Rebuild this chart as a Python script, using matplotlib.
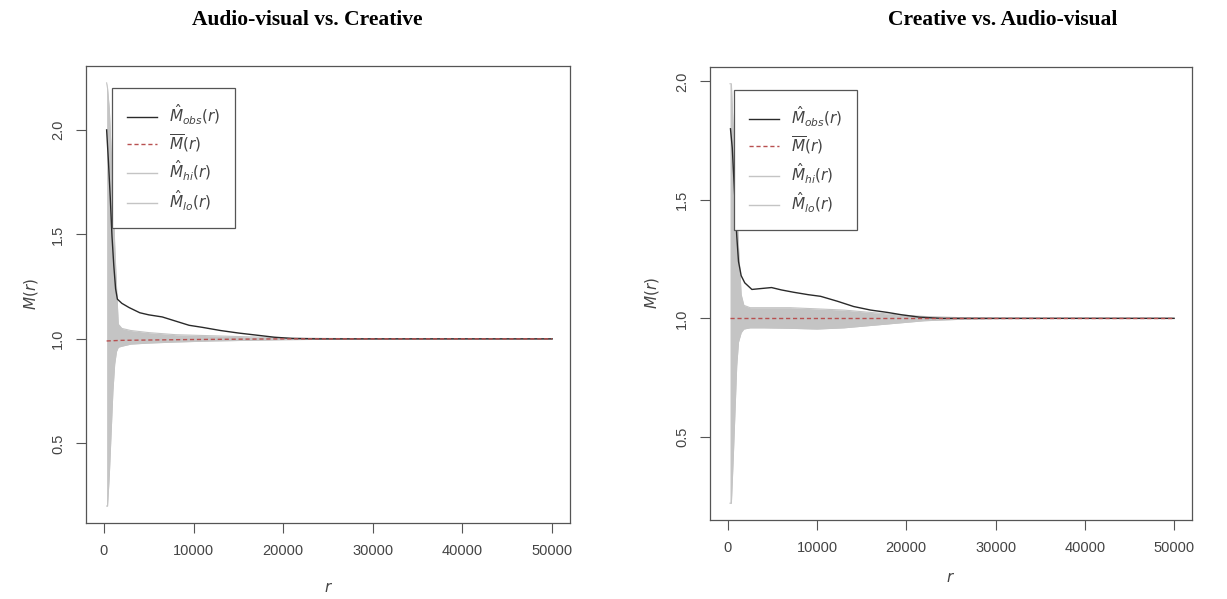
import matplotlib
matplotlib.use("Agg")
import matplotlib.pyplot as plt
from matplotlib.lines import Line2D

# ---------------- data ----------------
titles = ["Audio-visual vs. Creative", "Creative vs. Audio-visual"]
xticks = [0, 10000, 20000, 30000, 40000, 50000]
yticks = [0.5, 1.0, 1.5, 2.0]

# Left panel: Audio-visual vs. Creative
r_obs_left = [300, 500, 700, 900, 1100, 1300, 1500, 2000, 2800, 4000, 5000, 6500, 8000,
              9500, 11000, 13000, 15000, 17000, 19000, 21000, 24000, 30000, 40000, 50000]
m_obs_left = [2.0, 1.85, 1.68, 1.49, 1.35, 1.24, 1.19, 1.17, 1.15, 1.125, 1.115, 1.105, 1.085,
              1.065, 1.055, 1.04, 1.028, 1.018, 1.008, 1.002, 1.0, 1.0, 1.0, 1.0]
r_env_left = [300, 400, 600, 800, 1000, 1200, 1400, 1600, 2000, 3000, 5000, 8000, 12000,
              16000, 20000, 25000, 30000, 40000, 50000]
m_hi_left = [2.225, 2.2, 2.1, 1.9, 1.7, 1.45, 1.25, 1.07, 1.05, 1.04, 1.03, 1.02, 1.015,
             1.01, 1.005, 1.002, 1.001, 1.0, 1.0]
m_lo_left = [0.2, 0.2, 0.35, 0.55, 0.75, 0.88, 0.94, 0.96, 0.965, 0.975, 0.98, 0.985, 0.99,
             0.993, 0.996, 0.998, 0.999, 1.0, 1.0]
r_mean_left = [300, 2000, 10000, 20000, 50000]
m_mean_left = [0.99, 0.993, 0.997, 1.0, 1.0]

# Right panel: Creative vs. Audio-visual
r_obs_right = [300, 500, 800, 1000, 1200, 1500, 1900, 2700, 3500, 4900, 6000, 7400, 9000,
               10400, 12300, 14100, 16000, 17900, 19500, 21500, 24000, 30000, 40000, 50000]
m_obs_right = [1.8, 1.72, 1.5, 1.35, 1.24, 1.18, 1.15, 1.122, 1.125, 1.13, 1.12, 1.11, 1.1,
               1.093, 1.072, 1.05, 1.035, 1.025, 1.015, 1.005, 1.0, 1.0, 1.0, 1.0]
r_env_right = [250, 400, 600, 800, 1000, 1200, 1500, 1800, 2500, 4000, 7000, 10000, 13000,
               16000, 19000, 22000, 26000, 30000, 40000, 50000]
m_hi_right = [1.99, 1.99, 1.8, 1.6, 1.5, 1.3, 1.1, 1.055, 1.045, 1.045, 1.045, 1.04, 1.035,
              1.025, 1.015, 1.008, 1.003, 1.001, 1.0, 1.0]
m_lo_right = [0.22, 0.22, 0.4, 0.6, 0.8, 0.9, 0.94, 0.955, 0.96, 0.96, 0.958, 0.955, 0.96,
              0.97, 0.98, 0.99, 0.996, 0.999, 1.0, 1.0]
r_mean_right = [250, 50000]
m_mean_right = [1.0, 1.0]

panels = [
    dict(r_obs=r_obs_left, obs=m_obs_left, r_env=r_env_left, hi=m_hi_left, lo=m_lo_left,
         r_mean=r_mean_left, mean=m_mean_left),
    dict(r_obs=r_obs_right, obs=m_obs_right, r_env=r_env_right, hi=m_hi_right, lo=m_lo_right,
         r_mean=r_mean_right, mean=m_mean_right),
]

# ---------------- style ----------------
plt.rcParams['font.family'] = ['Liberation Sans', 'DejaVu Sans']
plt.rcParams['mathtext.fontset'] = 'dejavusans'
TXT = '#444444'
AX = '#555555'
BAND = '#c4c4c4'
RED = '#b85050'

fig = plt.figure(figsize=(12.27, 5.99), dpi=100)
positions = [[0.0701, 0.1269, 0.3945, 0.7630], [0.5786, 0.1319, 0.3928, 0.7563]]
title_x = [0.250, 0.817]
leg_anchor = [(0.054, 0.952), (0.050, 0.949)]
ylabel_pad = [8, 10]
xlabel_pad = [17, 12]

for i, (p, pos) in enumerate(zip(panels, positions)):
    ax = fig.add_axes(pos)
    ax.fill_between(p['r_env'], p['lo'], p['hi'], color=BAND, lw=0, zorder=1)
    ax.plot(p['r_env'], p['hi'], color=BAND, lw=0.8, zorder=1)
    ax.plot(p['r_env'], p['lo'], color=BAND, lw=0.8, zorder=1)
    ax.plot(p['r_obs'], p['obs'], color='#2a2a2a', lw=1.0, zorder=3)
    ax.plot(p['r_mean'], p['mean'], color=RED, lw=1.0, ls=(0, (3, 2)), zorder=4)

    allv = p['hi'] + p['lo'] + p['obs']
    lo_, hi_ = min(allv), max(allv)
    d = hi_ - lo_
    ax.set_ylim(lo_ - 0.04 * d, hi_ + 0.04 * d)
    ax.set_xlim(-2000, 52000)
    ax.set_xticks(xticks)
    ax.set_xticklabels([str(t) for t in xticks])
    ax.set_yticks(yticks)
    ax.set_yticklabels(["%.1f" % t for t in yticks], rotation=90, va='center')
    ax.tick_params(direction='out', length=7, width=0.8, color=AX, labelcolor=TXT,
                   labelsize=10.5, pad=8)
    for s in ax.spines.values():
        s.set_color(AX)
        s.set_linewidth(0.9)
    ax.set_xlabel('$r$', fontsize=11, color=TXT, labelpad=xlabel_pad[i])
    ax.set_ylabel('$M(r)$', fontsize=11, color=TXT, labelpad=ylabel_pad[i])

    handles = [
        Line2D([], [], color='#2a2a2a', lw=1.0),
        Line2D([], [], color=RED, lw=1.0, ls=(0, (3, 2))),
        Line2D([], [], color=BAND, lw=1.0),
        Line2D([], [], color=BAND, lw=1.0),
    ]
    labels = [r'$\hat{M}_{obs}(r)$', r'$\overline{M}(r)$', r'$\hat{M}_{hi}(r)$', r'$\hat{M}_{lo}(r)$']
    leg = ax.legend(handles, labels, loc='upper left', bbox_to_anchor=leg_anchor[i],
                    fontsize=11, frameon=True, fancybox=False, framealpha=1,
                    edgecolor=AX, handlelength=2.0, labelspacing=0.35, borderpad=0.95,
                    handletextpad=0.8, borderaxespad=0)
    leg.get_frame().set_linewidth(0.9)
    for t in leg.get_texts():
        t.set_color(TXT)

    fig.text(title_x[i], 0.967, titles[i], ha='center', va='center',
             fontsize=15.5, fontweight='bold', family='Liberation Serif', color='black')

fig.savefig('out.png', dpi=100)
